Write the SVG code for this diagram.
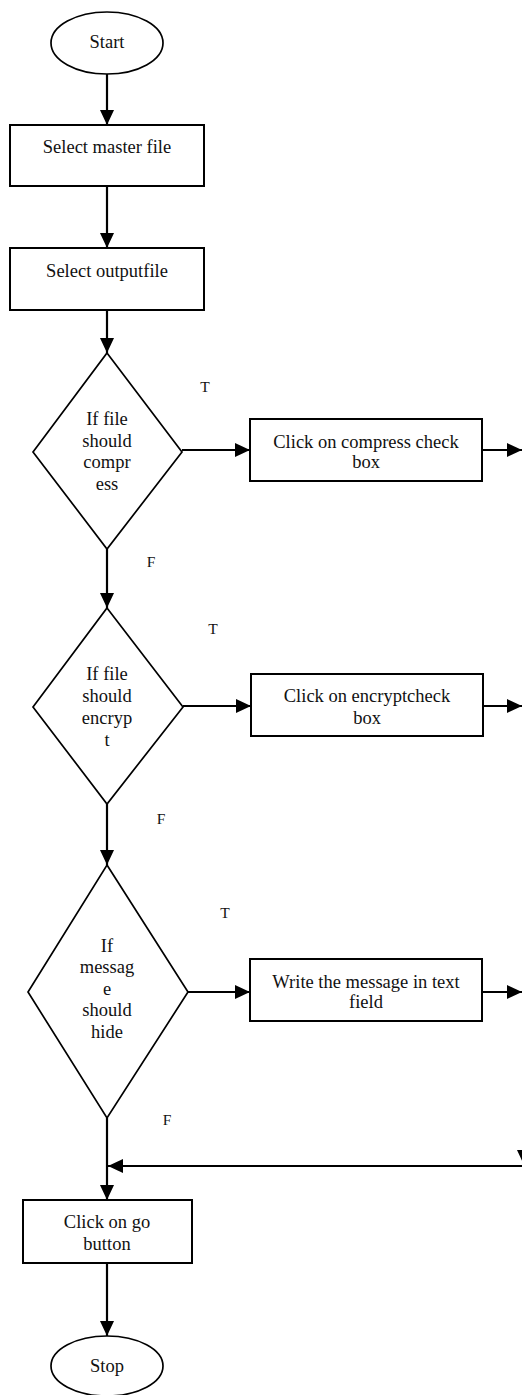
<svg xmlns="http://www.w3.org/2000/svg" width="522" height="1395" viewBox="0 0 522 1395">
  <style>
    .shape { fill: #fff; stroke: #000; stroke-width: 2; }
    .dia { fill: #fff; stroke: #000; stroke-width: 1.7; }
    .t { font-family: "Liberation Serif", "Times New Roman", serif; font-size: 18.5px; fill: #111; text-anchor: middle; }
    .lbl { font-family: "Liberation Serif", "Times New Roman", serif; font-size: 15.5px; fill: #111; text-anchor: middle; }
    .flow { stroke: #000; stroke-width: 2.2; fill: none; marker-end: url(#arrow); }
  </style>
  <defs>
    <marker id="arrow" viewBox="0 0 15 14" refX="15" refY="7" markerWidth="15" markerHeight="14" markerUnits="userSpaceOnUse" orient="auto">
      <path d="M0,0 L15,7 L0,14 Z" fill="#000"/>
    </marker>
  </defs>
  <rect width="522" height="1395" fill="#fff"/>

  <g id="connectors">
    <line class="flow" x1="107" y1="74" x2="107" y2="125"/>
    <line class="flow" x1="107" y1="186" x2="107" y2="248"/>
    <line class="flow" x1="107" y1="310" x2="107" y2="353"/>
    <line class="flow" x1="182" y1="450" x2="250" y2="450"/>
    <line class="flow" x1="482" y1="450" x2="522" y2="450"/>
    <line class="flow" x1="107" y1="549" x2="107" y2="608"/>
    <line class="flow" x1="183" y1="706" x2="251" y2="706"/>
    <line class="flow" x1="483" y1="706" x2="522" y2="706"/>
    <line class="flow" x1="107" y1="804" x2="107" y2="865"/>
    <line class="flow" x1="188" y1="992" x2="250" y2="992"/>
    <line class="flow" x1="482" y1="992" x2="522" y2="992"/>
    <line class="flow" x1="107" y1="1118" x2="107" y2="1200"/>
    <line class="flow" x1="522" y1="1166" x2="108" y2="1166"/>
    <polygon points="517,1150 531,1150 524,1165" fill="#000"/>
    <line class="flow" x1="107" y1="1263" x2="107" y2="1336"/>
  </g>

  <g id="start">
    <ellipse class="dia" cx="107" cy="43" rx="56" ry="31"/>
    <text class="t" x="107" y="48">Start</text>
  </g>

  <g id="select-master">
    <rect class="shape" x="10" y="125" width="194" height="61"/>
    <text class="t" x="107" y="153">Select master file</text>
  </g>

  <g id="select-output">
    <rect class="shape" x="10" y="248" width="194" height="62"/>
    <text class="t" x="107" y="277">Select outputfile</text>
  </g>

  <g id="if-compress">
    <polygon class="dia" points="107,353 182,452 107,549 33,452"/>
    <text class="t" x="107" y="425">If file</text>
    <text class="t" x="107" y="447">should</text>
    <text class="t" x="107" y="468">compr</text>
    <text class="t" x="107" y="490">ess</text>
    <text class="lbl" x="205" y="392">T</text>
    <text class="lbl" x="151" y="567">F</text>
  </g>

  <g id="compress-box">
    <rect class="shape" x="250" y="419" width="232" height="62"/>
    <text class="t" x="366" y="448">Click on compress check</text>
    <text class="t" x="366" y="468">box</text>
  </g>

  <g id="if-encrypt">
    <polygon class="dia" points="107,608 183,707 107,804 33,707"/>
    <text class="t" x="107" y="680">If file</text>
    <text class="t" x="107" y="702">should</text>
    <text class="t" x="107" y="724">encryp</text>
    <text class="t" x="107" y="746">t</text>
    <text class="lbl" x="213" y="634">T</text>
    <text class="lbl" x="161" y="824">F</text>
  </g>

  <g id="encrypt-box">
    <rect class="shape" x="251" y="674" width="232" height="62"/>
    <text class="t" x="367" y="702">Click on encryptcheck</text>
    <text class="t" x="367" y="724">box</text>
  </g>

  <g id="if-hide">
    <polygon class="dia" points="107,865 188,992 107,1118 28,992"/>
    <text class="t" x="107" y="952">If</text>
    <text class="t" x="107" y="973">messag</text>
    <text class="t" x="107" y="995">e</text>
    <text class="t" x="107" y="1016">should</text>
    <text class="t" x="107" y="1038">hide</text>
    <text class="lbl" x="225" y="918">T</text>
    <text class="lbl" x="167" y="1125">F</text>
  </g>

  <g id="message-box">
    <rect class="shape" x="250" y="959" width="232" height="62"/>
    <text class="t" x="366" y="988">Write the message in text</text>
    <text class="t" x="366" y="1008">field</text>
  </g>

  <g id="go-button">
    <rect class="shape" x="23" y="1200" width="169" height="63"/>
    <text class="t" x="107" y="1228">Click on go</text>
    <text class="t" x="107" y="1250">button</text>
  </g>

  <g id="stop">
    <ellipse class="dia" cx="107" cy="1366" rx="56" ry="30"/>
    <text class="t" x="107" y="1372">Stop</text>
  </g>
</svg>
